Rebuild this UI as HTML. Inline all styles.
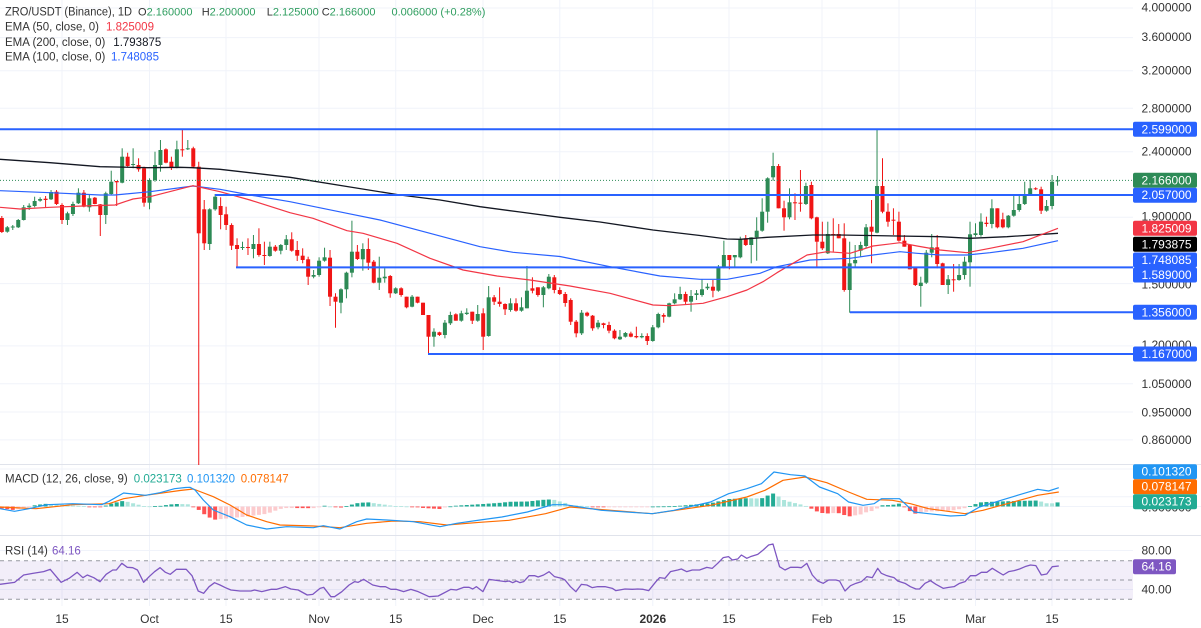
<!DOCTYPE html>
<html><head><meta charset="utf-8">
<style>
html,body{margin:0;padding:0;background:#fff;}
body{width:1201px;height:628px;overflow:hidden;}
svg{display:block;font-family:"Liberation Sans",Arial,sans-serif;}
.lg{font-size:11.5px;fill:#333;}
.lg1{font-size:11px;fill:#333;}
.ax{font-size:12px;fill:#333;}
.bx{font-size:12px;fill:#fff;}
.xl{font-size:12px;fill:#333;text-anchor:middle;}
</style></head>
<body>
<svg id="s" width="1201" height="628" viewBox="0 0 1201 628" xmlns="http://www.w3.org/2000/svg">
<rect x="0" y="0" width="1201" height="628" fill="#fff"/>
<g stroke="#f0f3fa" stroke-width="1">
<line x1="0" x2="1133" y1="8" y2="8"/><line x1="0" x2="1133" y1="37.6" y2="37.6"/>
<line x1="0" x2="1133" y1="70.7" y2="70.7"/><line x1="0" x2="1133" y1="108.2" y2="108.2"/>
<line x1="0" x2="1133" y1="151.7" y2="151.7"/><line x1="0" x2="1133" y1="217.2" y2="217.2"/>
<line x1="0" x2="1133" y1="283.6" y2="283.6"/><line x1="0" x2="1133" y1="345.9" y2="345.9"/>
<line x1="0" x2="1133" y1="383.8" y2="383.8"/><line x1="0" x2="1133" y1="412" y2="412"/>
<line x1="0" x2="1133" y1="439.9" y2="439.9"/>
<line x1="0" x2="1133" y1="469" y2="469"/><line x1="0" x2="1133" y1="496.7" y2="496.7"/>
<line x1="0" x2="1133" y1="550.5" y2="550.5"/><line x1="0" x2="1133" y1="589.5" y2="589.5"/>
<line x1="62" x2="62" y1="0" y2="606"/><line x1="149.5" x2="149.5" y1="0" y2="606"/>
<line x1="226" x2="226" y1="0" y2="606"/><line x1="319" x2="319" y1="0" y2="606"/>
<line x1="395.7" x2="395.7" y1="0" y2="606"/><line x1="483" x2="483" y1="0" y2="606"/>
<line x1="559.8" x2="559.8" y1="0" y2="606"/><line x1="652.8" x2="652.8" y1="0" y2="606"/>
<line x1="729" x2="729" y1="0" y2="606"/><line x1="822" x2="822" y1="0" y2="606"/>
<line x1="899" x2="899" y1="0" y2="606"/><line x1="975.5" x2="975.5" y1="0" y2="606"/>
<line x1="1052" x2="1052" y1="0" y2="606"/>
</g>
<g stroke="#e0e3eb" stroke-width="1">
<line x1="0" x2="1201" y1="464.5" y2="464.5"/>
<line x1="0" x2="1201" y1="535.5" y2="535.5"/>
</g>
<rect x="0" y="560.7" width="1133" height="38.6" fill="#7e57c2" fill-opacity="0.1"/>
<g stroke="#9598a1" stroke-width="1" stroke-dasharray="4,4">
<line x1="0" x2="1133" y1="560.7" y2="560.7"/>
<line x1="0" x2="1133" y1="580" y2="580"/>
<line x1="0" x2="1133" y1="599.3" y2="599.3"/>
</g>
<line x1="0" x2="1201" y1="506.5" y2="506.5" stroke="#f0f3fa" stroke-width="1"/>
<g id="dyn"></g>

<text class="lg" x="5" y="12.7" dominant-baseline="central" textLength="127" lengthAdjust="spacingAndGlyphs">ZRO/USDT (Binance), 1D</text>
<text class="lg1" x="138" y="12.7" dominant-baseline="central">O<tspan style="fill:#2f9e5f">2.160000</tspan></text>
<text class="lg1" x="201.7" y="12.7" dominant-baseline="central">H<tspan style="fill:#2f9e5f">2.200000</tspan></text>
<text class="lg1" x="266.7" y="12.7" dominant-baseline="central">L<tspan style="fill:#2f9e5f">2.125000</tspan></text>
<text class="lg1" x="321.7" y="12.7" dominant-baseline="central">C<tspan style="fill:#2f9e5f">2.166000</tspan></text>
<text class="lg1" x="391.5" y="12.7" dominant-baseline="central" style="fill:#2f9e5f">0.006000 (+0.28%)</text>
<text class="lg" x="5" y="27.5" dominant-baseline="central">EMA (50, close, 0)</text>
<text class="lg" x="106" y="27.5" dominant-baseline="central" style="fill:#f23645">1.825009</text>
<text class="lg" x="5" y="43" dominant-baseline="central">EMA (200, close, 0)</text>
<text class="lg" x="113.3" y="43" dominant-baseline="central" style="fill:#131722">1.793875</text>
<text class="lg" x="5" y="57.5" dominant-baseline="central">EMA (100, close, 0)</text>
<text class="lg" x="111" y="57.5" dominant-baseline="central" style="fill:#2962ff">1.748085</text>

<text class="lg" x="5" y="479.5" dominant-baseline="central">MACD (12, 26, close, 9)</text>
<text class="lg" x="133.8" y="479.5" dominant-baseline="central" style="fill:#22ab94">0.023173</text>
<text class="lg" x="187" y="479.5" dominant-baseline="central" style="fill:#2196f3">0.101320</text>
<text class="lg" x="240.7" y="479.5" dominant-baseline="central" style="fill:#ff6d00">0.078147</text>

<text class="lg" x="5" y="551.5" dominant-baseline="central">RSI (14)</text>
<text class="lg" x="52" y="551.5" dominant-baseline="central" style="fill:#7e57c2">64.16</text>

<g>
<text class="ax" x="1141.5" y="7.5" dominant-baseline="central">4.000000</text>
<text class="ax" x="1141.5" y="37" dominant-baseline="central">3.600000</text>
<text class="ax" x="1141.5" y="70.7" dominant-baseline="central">3.200000</text>
<text class="ax" x="1141.5" y="108.3" dominant-baseline="central">2.800000</text>
<text class="ax" x="1141.5" y="151.7" dominant-baseline="central">2.400000</text>
<text class="ax" x="1141.5" y="216.5" dominant-baseline="central">1.900000</text>
<text class="ax" x="1141.5" y="284.5" dominant-baseline="central">1.500000</text>
<text class="ax" x="1141.5" y="345" dominant-baseline="central">1.200000</text>
<text class="ax" x="1141.5" y="384" dominant-baseline="central">1.050000</text>
<text class="ax" x="1141.5" y="412.7" dominant-baseline="central">0.950000</text>
<text class="ax" x="1141.5" y="440" dominant-baseline="central">0.860000</text>
<text class="ax" x="1141.5" y="507.5" dominant-baseline="central">0.000000</text>
<text class="ax" x="1141.5" y="550.7" dominant-baseline="central">80.00</text>
<text class="ax" x="1141.5" y="589.5" dominant-baseline="central">40.00</text>
</g>
<g>
<rect x="1133" y="121.8" width="64" height="15" rx="2" fill="#2962ff"/><text class="bx" x="1141.5" y="129.3" dominant-baseline="central">2.599000</text>
<rect x="1133" y="172.8" width="64" height="15" rx="2" fill="#2e8b57"/><text class="bx" x="1141.5" y="180.3" dominant-baseline="central">2.166000</text>
<rect x="1133" y="187.7" width="64" height="15" rx="2" fill="#2962ff"/><text class="bx" x="1141.5" y="195.2" dominant-baseline="central">2.057000</text>
<rect x="1133" y="220.8" width="64" height="15" rx="2" fill="#f23645"/><text class="bx" x="1141.5" y="228.3" dominant-baseline="central">1.825009</text>
<rect x="1133" y="236.8" width="64" height="15" rx="2" fill="#000"/><text class="bx" x="1141.5" y="244.3" dominant-baseline="central">1.793875</text>
<rect x="1133" y="252.5" width="64" height="15" rx="2" fill="#2962ff"/><text class="bx" x="1141.5" y="260" dominant-baseline="central">1.748085</text>
<rect x="1133" y="267.5" width="64" height="15" rx="2" fill="#2962ff"/><text class="bx" x="1141.5" y="275" dominant-baseline="central">1.589000</text>
<rect x="1133" y="304.8" width="64" height="15" rx="2" fill="#2962ff"/><text class="bx" x="1141.5" y="312.3" dominant-baseline="central">1.356000</text>
<rect x="1133" y="346.5" width="64" height="15" rx="2" fill="#2962ff"/><text class="bx" x="1141.5" y="354" dominant-baseline="central">1.167000</text>
<rect x="1133" y="464.2" width="64" height="15" rx="2" fill="#2196f3"/><text class="bx" x="1141.5" y="471.7" dominant-baseline="central">0.101320</text>
<rect x="1133" y="479.2" width="64" height="15" rx="2" fill="#ff6d00"/><text class="bx" x="1141.5" y="486.7" dominant-baseline="central">0.078147</text>
<rect x="1133" y="494.2" width="64" height="15" rx="2" fill="#22ab94"/><text class="bx" x="1141.5" y="501.7" dominant-baseline="central">0.023173</text>
<rect x="1133" y="559.2" width="43" height="15" rx="2" fill="#7e57c2"/><text class="bx" x="1141.5" y="566.7" dominant-baseline="central">64.16</text>
</g>

<text class="xl" x="62" y="619" dominant-baseline="central">15</text>
<text class="xl" x="149.5" y="619" dominant-baseline="central">Oct</text>
<text class="xl" x="226" y="619" dominant-baseline="central">15</text>
<text class="xl" x="319" y="619" dominant-baseline="central">Nov</text>
<text class="xl" x="395.7" y="619" dominant-baseline="central">15</text>
<text class="xl" x="483" y="619" dominant-baseline="central">Dec</text>
<text class="xl" x="559.8" y="619" dominant-baseline="central">15</text>
<text class="xl" x="652.8" y="619" dominant-baseline="central" font-weight="bold">2026</text>
<text class="xl" x="729" y="619" dominant-baseline="central">15</text>
<text class="xl" x="822" y="619" dominant-baseline="central">Feb</text>
<text class="xl" x="899" y="619" dominant-baseline="central">15</text>
<text class="xl" x="975.5" y="619" dominant-baseline="central">Mar</text>
<text class="xl" x="1052" y="619" dominant-baseline="central">15</text>
</svg>
<script>
(function(){
var NS='http://www.w3.org/2000/svg';
var g=document.getElementById('dyn');
function el(tag,a){var e=document.createElementNS(NS,tag);for(var k in a)e.setAttribute(k,a[k]);g.appendChild(e);return e;}
function X(d){return 62+5.47*d;}
var GREEN='#2d8a55',RED='#f01515';
var D=[
[218,216,233,232],[231.7,226,232.7,227.3],[227.5,225,230,226.5],[227.3,219,228,220],[220,205,220.5,207.3],
[207.3,203.3,210,205.7],[206,196.7,207.3,201],[200.7,197.3,201.7,199],[198.7,196,207.3,200],[199.3,190,200,192],
[191.7,190,205,204],
[205,203.3,224,220],[220,211.7,225,213.3],[214,201.7,216,204],[203.3,188.3,204,192.7],[192.7,190,207.3,206.7],
[207.3,195,211.7,198.3],[197.7,197,204.3,204],[204.3,204,236,215],[215,191.7,224,193.3],[194,170.7,195,181.7],
[181,181,206,182.3],[182.7,148.3,183.3,156.7],[156.7,152.7,166.7,166],[165,148.3,168.3,164],[165,158.3,171.7,169.3],
[168.3,166.7,206.7,202.7],[202.7,178.3,209.3,180],[180,151.7,181.7,165],[165,140,171.7,150],[149.3,148.3,163.3,162.7],
[161.7,156.7,170,167.7],[166.7,140.7,168.3,149.3],[149.3,130,156.7,149.7],[149,140,150,148.3],[148.3,146.7,168.3,166.7],
[166.7,161.7,465,233.3],[209.3,200,250,243.3],[244,208.3,250,209.3],[209.3,194,210.7,196.7],[206,197.3,229.3,215],
[214.3,206.7,230,225],[225,223.3,250,245.7],[245,238.3,266.7,249],[248,241.7,250,247],[247,238.3,255,247.7],
[249,235,258.3,244],[244,228.3,256.7,255],[255,241.7,265,255.7],[256,241.7,256.7,246.7],[246.7,245,251.7,250.7],
[250.7,244,254.3,245],[245,235,250,239.3],[239.3,232.3,251.7,250.7],[250,241,261,255.7],[255.7,248.3,263.3,260],
[259.3,256.7,285,276.7],[276.7,270,278.3,275],[275,257.3,276.7,260.7],[260.7,247.7,261.7,257.3],[257.7,250,306,296.7],
[296.7,293.3,327.7,301.7],[302.7,288.3,313.3,289.3],[289.3,271.7,298.3,272.7],[272.7,220.7,277.3,251.7],[251.7,245,260,259],
[259.3,243.3,270.7,249],[249,238.3,270,262.7],[261.7,260,283.3,282.7],[282.7,256.7,290,277.7],[278.3,268.3,282.7,276.7],
[276,275,297.7,293.3],[293.3,287.3,294,288.3],[288.3,287.3,296.7,295],[296.7,296.7,308.3,307.3],[306.7,295,307.3,296.7],
[296.7,296.7,303.3,302.7],[302.7,302.7,315,315],[315,315,355,336.7],[336.7,328.3,346.7,331.7],[332.3,331.7,336,335],
[335,320,338.3,322.7],[323.3,311.7,325,315],[314.3,313.3,320.7,320.7],[320.7,310.7,321.7,313.3],[314,308.3,315,312.7],
[311.7,311.7,324,320.7],[320.7,305,321.7,314],[313.3,308.3,350,336.7],[336,286,336.7,297.3],[297.3,295,305,301.7],
[301.7,287.3,306.7,304],[304,303.3,315,309.3],[310,298.3,311.7,303.3],[303.3,298.3,311.7,310.7],[310.7,297.3,311.7,307.3],
[308.3,266,308.3,290.7],[288.3,277.3,293.3,290.7],[287.3,287.3,296.7,295],[295,286,307.3,287.3],[288.3,274,289.3,276.7],
[277.3,275,293.3,290],[290,287.3,295,294],[294,292,306.7,303],[300,298.3,325,321.7],[321.7,320,337.3,333.3],
[333.3,310,335,312.7],[312.7,311.7,316.7,315.7],[315.7,315,330.7,328.3],[327.3,320,329.3,322.7],[323.3,322.7,328.3,325],
[325,321.7,333.3,330.7],[330.7,329.3,339.3,338.3],[339.3,330,340,336.7],[336.7,332,337.5,333],[333.5,331.7,337.3,336.7],
[336,326.7,338.3,337.3],[337.3,333.3,338.3,336],[336,333.3,345,341],[341,325,341.7,327.3],[327.3,312.7,328.3,314],
[315,313.3,322.7,316.7],[316.7,302.7,317.3,303.3],[303.3,293.3,304.3,299.3],[299.3,286.7,300,294],[294,291.7,305,301.7],
[301.7,290,311.7,296],[295,290,300,293.3],[295,279.3,296.7,289.3],[288.3,283.3,290,286.7],[286.7,280,297.3,290.7],
[290.7,265,291.7,267.3],[267.3,240.7,268.3,255],[255,255,269.3,260],[257.3,255,266.7,255],[257.3,236.7,258.3,239.3],
[238.3,235,246,245],[245,237.3,263.3,237.3],[237.3,217.3,260.7,230.7],[230.7,198.3,231.7,211.7],[211.7,177.3,222.7,178.3],
[177.3,152.7,180.7,166],[166,164,208.3,208.3],[208.3,200.7,230.7,217.3],[217.3,188.3,219.3,202.3],[202.3,193.3,220,203.3],
[202.7,170,211.7,203],[204,182.7,205,186],[185,181.7,219.3,218.3],[217.3,216.7,267.3,241.7],[241.7,221.7,250,248.3],
[253.3,221.7,254,234],[234,218.3,251.7,235],[234,224,238.3,238.3],[238.3,223.3,291.7,290],[290,241.7,312.7,263.3],
[263.3,245,266.7,260],[250.7,241.7,256.7,245],[246,224,248.3,227.3],[226.7,200,263.3,231.7],[232.7,130,233.3,186],
[186,158.3,213.3,211.7],[211.7,203.3,226.7,221.7],[219.7,208.3,235,220.3],[221.7,211.7,241.7,240.7],[240.7,235,246.7,246.7],
[245,245,269.3,269.3],[267.3,266.7,286,285],[286,276.7,306.7,282.7],[282.7,250,284,252.7],[252.7,234,257.3,247.3],
[247.3,235,268.3,264],[263.3,262.7,285,285],[285,275,294,279.3],[279.3,264,291.7,279.7],[280,264,280.7,275],
[275,256.7,279.3,261.7],[262.3,221.7,286.7,234.3],[235,223.3,236.7,233.3],[235,213.3,236.7,221.7],[222.7,216.7,226.7,224],
[224,199.3,228.3,208.3],[208.3,208.3,228.3,227.3],[219.3,212.7,228.3,227.3],[227.3,215,228.3,215.7],[215.7,196,216.7,210],
[210,196,211.7,204],[204,181.7,205,195],[195,180,195,188.3],[188.3,187.3,190,189.3],[189.3,186.7,214,210.7],
[210.7,200,211.7,206],[206,175,209.3,181.7],[181.2,176,185.7,180.4]
];
for(var i=0;i<D.length;i++){
  var d=i-11,x=X(d),c=D[i],o=c[0],h=c[1],l=c[2],cl=c[3];
  var up=cl<=o,col=up?GREEN:RED;
  el('line',{x1:x,x2:x,y1:h,y2:l,stroke:col,'stroke-width':1});
  var top=Math.min(o,cl),bot=Math.max(o,cl);
  el('rect',{x:x-2,y:top,width:4,height:Math.max(1,bot-top),fill:col});
}
function pl(pts,col,w){el('polyline',{points:pts.map(function(p){return p[0]+','+p[1];}).join(' '),fill:'none',stroke:col,'stroke-width':w,'stroke-linejoin':'round'});}
var E200=[[0,159.3],[50,162.7],[100,166.7],[148,167.7],[180,167.3],[193,167.7],[220,169.3],[290,177.3],[350,187],[400,195],[440,200],[480,206.7],[520,212],[560,217.3],[600,222],[653,230],[700,235.5],[727,239],[740,239.3],[767,237.3],[813,235],[840,235],[897,236],[940,236.7],[970,238.3],[1007,236.7],[1058,233.3]];
var E100=[[0,190.7],[50,192.7],[100,195],[115,195],[150,191.7],[193,186],[220,189.3],[250,195],[290,201.7],[347,213.3],[380,220],[430,233.3],[480,246.7],[513,252.3],[560,256.5],[610,266.7],[660,276],[700,279.3],[727,279.3],[760,273.3],[777,266.7],[810,260],[850,258.3],[873,255],[900,251.7],[917,253.3],[940,255],[967,255],[990,252.7],[1023,248.3],[1058,240.7]];
var E50=[[0,207.3],[20,209],[50,207.3],[83,206],[115,205],[133,199],[150,196.7],[193,185.7],[220,191.7],[250,200],[290,212.7],[313,218.3],[347,230.7],[363,233.3],[397,243.3],[430,258.3],[463,270],[497,276],[530,280],[570,286],[610,293.3],[653,305],[670,305.7],[703,303.3],[727,296.7],[747,290],[763,281.7],[777,272.7],[793,263.3],[807,255],[827,251.7],[850,253.3],[873,246],[900,242.7],[917,246],[940,250],[967,252.7],[990,248.3],[1023,241.7],[1058,228.3]];
pl(E200,'#131722',1.3);
pl(E100,'#2962ff',1.2);
pl(E50,'#f23645',1.2);
function hl(x1,y){el('line',{x1:x1,x2:1133,y1:y,y2:y,stroke:'#2962ff','stroke-width':2});}
hl(0,129.3);hl(215,195);hl(236,267.4);hl(850,312.3);hl(428,354);
el('line',{x1:0,x2:1133,y1:180.4,y2:180.4,stroke:'#2e8b57','stroke-width':1,'stroke-dasharray':'1,2'});
var MB=[[0,508.7],[14.5,511.3],[29,508.7],[47,504.7],[72.7,503.7],[101.8,504.7],[109,501.3],[123.6,493],[145.5,495.3],[160,492.7],[174.5,488.7],[185.5,487.5],[190,487.3],[195,490],[203.3,500],[213.3,510],[230,516.7],[246.7,525],[266.7,529],[286.7,526.7],[313.3,527.7],[323.3,525.7],[340,529],[356.7,521.7],[366.7,519],[386.7,520],[413.3,521.7],[440,526.7],[456.7,523.3],[480,520],[501.8,517],[527.3,512],[552.7,504.7],[565,504.7],[601.4,510.3],[652.3,513.7],[674,510.3],[710.5,502],[728.6,493.7],[746.8,488.7],[761.4,483.7],[774,472],[790.5,474.7],[805,476],[819.5,487],[837.7,493.7],[848.6,502],[863,505.3],[874,503.7],[881.4,498.7],[899.5,498.7],[914,512],[928.6,513.7],[950.5,516],[965,515.3],[979.5,507],[1001,500.3],[1019.5,494.7],[1037.7,489.3],[1048.6,491],[1058.8,487.7]];
var MS=[[0,507],[36,508.7],[72.7,504.7],[109,503.7],[123.6,498.7],[145.5,495.3],[180,490.5],[193.3,489],[213.3,496.7],[230,505],[246.7,515],[266.7,521.7],[280,525],[313.3,526],[340,527.7],[366.7,523.3],[393.3,521],[420,521.7],[446.7,525],[480,522.3],[509,520.3],[545.5,513.7],[570,507],[652.3,513.7],[710.5,505.3],[746.8,497],[765,490.3],[783,480.3],[805,477],[826.8,482.7],[848.6,492],[866.8,499.3],[892.3,500.3],[910.5,503.7],[928.6,508.7],[965,513.7],[983,510.3],[1019.5,500.3],[1037.7,495.3],[1058.8,492]];
function ip(P,x){if(x<=P[0][0])return P[0][1];for(var k=1;k<P.length;k++){if(x<=P[k][0]){var a=P[k-1],b=P[k];return a[1]+(b[1]-a[1])*(x-a[0])/(b[0]-a[0]);}}return P[P.length-1][1];}
var Z=506.5,prev=null;
for(var d=-11;d<=182;d++){
  var x=X(d);var h=ip(MS,x)-ip(MB,x);
  var col;
  if(h>=0){col=(prev===null||h>=prev)?'#22ab94':'#ace5dc';}else{col=(prev===null||h<=prev)?'#ff5252':'#fccbcd';}
  prev=h;
  var top=h>=0?Z-h:Z, ht=Math.max(0.8,Math.abs(h));
  el('rect',{x:x-2,y:top,width:4,height:ht,fill:col});
}
pl(MS,'#ff6d00',1.2);
pl(MB,'#2196f3',1.2);
var RA=[[0,148],[40,142],[65,120],[90,115],[120,110],[138,103],[168,142],[190,130],[212,112],[228,128],[240,120],[258,128],[275,140],[292,118],[310,105],[320,105],[335,85],[350,97],[365,98],[378,105],[395,142],[410,125],[425,110],[440,98],[455,112],[468,118],[485,103],[512,103],[528,122],[545,168],[560,175],[575,155],[590,143],[605,150],[620,158],[635,165],[660,168],[690,168],[700,165],[720,170],[745,163],[760,163],[785,155],[800,162],[820,165],[845,180],[860,178],[880,160],[890,157],[910,185],[920,185],[940,170],[960,150],[975,140],[985,142],[1000,133],[1025,150],[1045,155],[1060,155],[1075,163],[1090,163],[1110,170],[1130,163],[1150,170],[1180,185],[1205,183],[1240,163],[1255,165],[1275,157],[1290,157],[1300,162],[1310,155],[1328,170],[1345,133],[1370,137],[1390,140],[1400,138],[1410,143],[1420,138],[1430,143],[1440,140],[1455,122],[1470,122],[1480,126],[1495,120],[1510,110],[1525,125],[1545,130]];
var RB=[[0,135],[15,155],[30,170],[45,148],[60,150],[75,158],[90,155],[110,155],[130,160],[140,167],[165,162],[185,163],[200,162],[215,163],[230,167],[250,140],[260,128],[275,130],[290,110],[310,105],[320,102],[335,110],[350,105],[370,105],[390,97],[405,100],[420,85],[435,68],[450,65],[460,75],[475,72],[485,60],[500,70],[510,65],[530,58],[545,45],[560,30],[572,27],[590,95],[605,105],[620,97],[640,97],[650,98],[665,85],[680,120],[695,138],[710,145],[725,135],[745,135],[755,138],[770,168],[785,152],[800,145],[815,140],[830,125],[845,128],[860,100],[870,115],[885,122],[905,128],[915,138],[935,145],[950,155],[965,162],[975,162],[990,145],[1005,137],[1020,148],[1040,160],[1055,157],[1070,155],[1085,145],[1100,140],[1115,122],[1130,122],[1145,112],[1160,112],[1175,100],[1190,110],[1205,120],[1220,110],[1235,107],[1250,102],[1265,95],[1280,90],[1295,92],[1310,120],[1325,117],[1340,95],[1358,93]];
var R=[];
RA.forEach(function(p){R.push([p[0]/2.75,535+p[1]/3]);});
RB.forEach(function(p){R.push([565+p[0]/2.75,535+p[1]/3]);});
pl(R,'#7e57c2',1.3);
})();
</script>
</body></html>
